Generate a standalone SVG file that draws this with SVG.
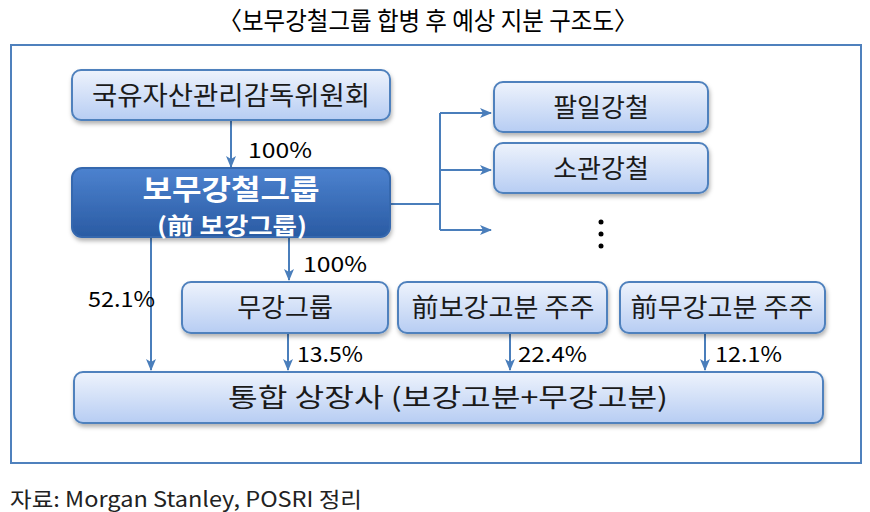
<svg xmlns="http://www.w3.org/2000/svg" width="870" height="512" viewBox="0 0 870 512">
<defs>
<linearGradient id="gLight" x1="0" y1="0" x2="0" y2="1">
<stop offset="0" stop-color="#EEF3FC"/>
<stop offset="1" stop-color="#B7CDF3"/>
</linearGradient>
<linearGradient id="gDark" x1="0" y1="0" x2="0" y2="1">
<stop offset="0" stop-color="#4C82CF"/>
<stop offset="1" stop-color="#2A5BA3"/>
</linearGradient>
<filter id="sh" x="-10%" y="-20%" width="120%" height="150%">
<feDropShadow dx="1" dy="3" stdDeviation="2" flood-color="#000" flood-opacity="0.3"/>
</filter>
<marker id="ar" viewBox="0 0 12 10" refX="11" refY="5" markerWidth="12" markerHeight="10" markerUnits="userSpaceOnUse" orient="auto">
<path d="M0,0 L12,5 L0,10 L3,5 z" fill="#4A7EBB"/>
</marker>
<style>
.box{fill:url(#gLight);stroke:#4F81BD;stroke-width:2;filter:url(#sh)}
.dark{fill:url(#gDark);stroke:#3567AE;stroke-width:2;filter:url(#sh)}
.t{font-family:"Noto Sans CJK KR","Noto Sans",sans-serif;font-size:26px;fill:#1a1a1a;text-anchor:middle}
.tw{font-family:"Noto Sans CJK KR","Noto Sans",sans-serif;font-weight:bold;fill:#ffffff;text-anchor:middle}
.p{font-family:"Noto Sans CJK KR","Noto Sans",sans-serif;font-size:21px;fill:#000}
.c{fill:none;stroke:#4A7EBB;stroke-width:2}
</style>
</defs>
<rect width="870" height="512" fill="#ffffff"/>
<text x="428" y="30" font-family="Noto Sans CJK KR, sans-serif" font-size="25" fill="#000" text-anchor="middle" textLength="419" lengthAdjust="spacingAndGlyphs">〈보무강철그룹 합병 후 예상 지분 구조도〉</text>
<rect x="11" y="45" width="850" height="418" fill="none" stroke="#4F81BD" stroke-width="2"/>

<g id="connectors">
<line class="c" x1="231" y1="120" x2="231" y2="167" marker-end="url(#ar)"/>
<path class="c" d="M390,204 H440"/>
<path class="c" d="M440,113 V230"/>
<line class="c" x1="440" y1="113" x2="491" y2="113" marker-end="url(#ar)"/>
<line class="c" x1="440" y1="170" x2="491" y2="170" marker-end="url(#ar)"/>
<line class="c" x1="440" y1="230" x2="491" y2="230" marker-end="url(#ar)"/>
<line class="c" x1="151" y1="238" x2="151" y2="370" marker-end="url(#ar)"/>
<line class="c" x1="289" y1="238" x2="289" y2="280" marker-end="url(#ar)"/>
<line class="c" x1="288" y1="333" x2="288" y2="370" marker-end="url(#ar)"/>
<line class="c" x1="510" y1="333" x2="510" y2="370" marker-end="url(#ar)"/>
<line class="c" x1="705" y1="333" x2="705" y2="370" marker-end="url(#ar)"/>
<text class="p" x="248" y="158" textLength="64" lengthAdjust="spacingAndGlyphs">100%</text>
<text class="p" x="303" y="272" textLength="64" lengthAdjust="spacingAndGlyphs">100%</text>
<text class="p" x="88" y="307" textLength="67" lengthAdjust="spacingAndGlyphs">52.1%</text>
<text class="p" x="297" y="362" textLength="66" lengthAdjust="spacingAndGlyphs">13.5%</text>
<text class="p" x="518" y="362" textLength="69" lengthAdjust="spacingAndGlyphs">22.4%</text>
<text class="p" x="715" y="362" textLength="67" lengthAdjust="spacingAndGlyphs">12.1%</text>
</g>

<g id="node-sasac">
<rect class="box" x="72" y="70" width="318" height="50" rx="9"/>
<text class="t" x="231" y="105" textLength="278" lengthAdjust="spacingAndGlyphs">국유자산관리감독위원회</text>
</g>
<g id="node-baowu">
<rect class="dark" x="72" y="168" width="318" height="69" rx="10"/>
<text class="tw" x="231" y="200" font-size="28" textLength="177" lengthAdjust="spacingAndGlyphs">보무강철그룹</text>
<text class="tw" x="232" y="234" font-size="23" textLength="150" lengthAdjust="spacingAndGlyphs">(前 보강그룹)</text>
</g>
<g id="node-bayi">
<rect class="box" x="494" y="82" width="214" height="50" rx="9"/>
<text class="t" x="601" y="117">팔일강철</text>
</g>
<g id="node-shaoguan">
<rect class="box" x="494" y="143" width="214" height="50" rx="9"/>
<text class="t" x="601" y="178">소관강철</text>
</g>
<g id="node-more">
<circle cx="601" cy="222" r="2.5" fill="#000"/>
<circle cx="601" cy="234" r="2.5" fill="#000"/>
<circle cx="601" cy="246" r="2.5" fill="#000"/>
</g>
<g id="node-wugang">
<rect class="box" x="182" y="282" width="206" height="51" rx="9"/>
<text class="t" x="285" y="317">무강그룹</text>
</g>
<g id="node-baosteel-sh">
<rect class="box" x="398" y="282" width="209" height="51" rx="9"/>
<text class="t" x="503" y="317" textLength="183" lengthAdjust="spacingAndGlyphs">前보강고분 주주</text>
</g>
<g id="node-wisco-sh">
<rect class="box" x="620" y="282" width="205" height="51" rx="9"/>
<text class="t" x="722" y="317" textLength="183" lengthAdjust="spacingAndGlyphs">前무강고분 주주</text>
</g>
<g id="node-merged">
<rect class="box" x="74" y="372" width="749" height="51" rx="9"/>
<text class="t" x="448" y="407" textLength="440" lengthAdjust="spacingAndGlyphs">통합 상장사 (보강고분+무강고분)</text>
</g>

<text x="10" y="507" font-family="Noto Sans CJK KR, Noto Sans, sans-serif" font-size="21" fill="#222" textLength="352" lengthAdjust="spacingAndGlyphs">자료: Morgan Stanley, POSRI 정리</text>
</svg>
